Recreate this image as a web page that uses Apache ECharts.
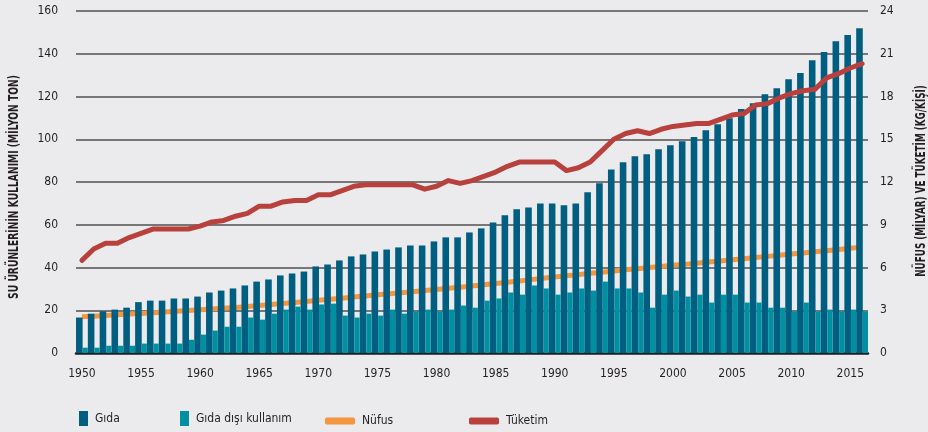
<!DOCTYPE html>
<html>
<head>
<meta charset="utf-8">
<script src="https://cdn.jsdelivr.net/npm/echarts@6/dist/echarts.min.js"></script>
<style>
html,body{margin:0;padding:0;background:#ebebed;}
#chart{width:928px;height:432px;}
</style>
</head>
<body>
<div id="chart"></div>
<script>
var years = [];
for (var y = 1950; y <= 2016; y++) years.push(String(y));

// Gıda (milyon ton)
var gida = [
  16.6, 18.4, 19.5, 20.3, 21.2, 23.8, 24.5, 24.5, 25.5, 25.5,
  26.4, 28.3, 29.2, 30.2, 31.6, 33.4, 34.4, 36.3, 37.2, 38.1,
  40.5, 41.4, 43.3, 45.2, 46.1, 47.5, 48.4, 49.4, 50.3, 50.3,
  52.2, 54.1, 54.1, 56.4, 58.3, 61.1, 64.4, 67.2, 68.1, 70.0,
  70.0, 69.1, 70.0, 75.2, 79.4, 85.9, 89.2, 92.0, 93.0, 95.3,
  97.2, 99.1, 101.0, 104.2, 107.0, 109.8, 114.1, 116.9, 121.1, 123.9,
  128.1, 131.0, 137.0, 140.8, 145.9, 148.8, 151.9
];

// Gıda dışı kullanım (milyon ton)
var gidaDisi = [
  2.5, 2.5, 3.4, 3.4, 3.4, 4.4, 4.4, 4.4, 4.4, 6.2,
  8.6, 10.5, 12.3, 12.3, 16.6, 15.6, 18.4, 20.3, 21.7, 20.3,
  22.7, 23.1, 17.5, 16.6, 18.4, 17.5, 20.3, 18.4, 19.4, 20.3,
  19.4, 20.3, 22.2, 21.2, 24.5, 25.5, 28.3, 27.3, 31.6, 30.2,
  27.3, 28.3, 30.2, 29.2, 33.4, 30.2, 30.2, 28.3, 21.2, 27.3,
  29.2, 26.4, 27.3, 23.6, 27.3, 27.3, 23.6, 23.6, 21.2, 21.2,
  19.4, 23.6, 19.4, 20.3, 19.4, 20.3, 19.4
];

// Nüfus (milyar)
var nufus = [
  2.54, 2.58, 2.63, 2.68, 2.73, 2.77, 2.82, 2.87, 2.93, 2.98,
  3.03, 3.08, 3.14, 3.20, 3.26, 3.33, 3.40, 3.47, 3.54, 3.62,
  3.70, 3.78, 3.85, 3.93, 4.00, 4.08, 4.15, 4.23, 4.30, 4.38,
  4.46, 4.54, 4.62, 4.70, 4.79, 4.87, 4.96, 5.05, 5.15, 5.24,
  5.33, 5.42, 5.50, 5.59, 5.67, 5.76, 5.84, 5.92, 6.00, 6.07,
  6.15, 6.22, 6.30, 6.38, 6.46, 6.54, 6.62, 6.70, 6.78, 6.86,
  6.94, 7.02, 7.10, 7.18, 7.27, 7.35, 7.43
];

// Tüketim (kg/kişi)
var tuketim = [
  6.5, 7.3, 7.7, 7.7, 8.1, 8.4, 8.7, 8.7, 8.7, 8.7,
  8.9, 9.2, 9.3, 9.6, 9.8, 10.3, 10.3, 10.6, 10.7, 10.7,
  11.1, 11.1, 11.4, 11.7, 11.8, 11.8, 11.8, 11.8, 11.8, 11.5,
  11.7, 12.1, 11.9, 12.1, 12.4, 12.7, 13.1, 13.4, 13.4, 13.4,
  13.4, 12.8, 13.0, 13.4, 14.2, 15.0, 15.4, 15.6, 15.4, 15.7,
  15.9, 16.0, 16.1, 16.1, 16.4, 16.7, 16.8, 17.4, 17.5, 17.9,
  18.2, 18.4, 18.5, 19.3, 19.6, 20.0, 20.3
];

var leftTicks = [0, 20, 40, 60, 80, 100, 120, 140, 160];
var rightTicks = [0, 3, 6, 9, 12, 15, 18, 21, 24];

var font = "'Liberation Sans Narrow', 'DejaVu Sans Condensed', sans-serif";
var txt = '#231f20';
var cGida = '#005e80', cDisi = '#0090a2', cNufus = '#f4953f', cTuk = '#b8403d';

var chart = echarts.init(document.getElementById('chart'));

function legendItem(name, left, top, icon, w, h, color) {
  return {
    left: left, top: top, icon: icon, itemWidth: w, itemHeight: h, itemGap: 0,
    data: [{ name: name, itemStyle: { color: color } }],
    textStyle: { fontFamily: font, fontSize: 12, color: txt, padding: [0, 0, 0, 2] },
    selectedMode: false
  };
}

// eksen başlıkları (dar yazı için yatay ölçek)
function axisTitle(text, x, y, sx) {
  return {
    type: 'text', x: x, y: y, rotation: Math.PI / 2, scaleX: sx,
    style: {
      text: text, fill: txt, font: "bold 14px 'DejaVu Sans Condensed', sans-serif",
      textAlign: 'center', textVerticalAlign: 'middle'
    }
  };
}

chart.setOption({
  backgroundColor: '#ebebed',
  animation: false,
  textStyle: { fontFamily: font },
  grid: { left: 76, right: 60, top: 11, bottom: 79 },
  graphic: [
    axisTitle('SU ÜRÜNLERİNİN KULLANIMI (MİLYON TON)', 14, 187, 0.73),
    axisTitle('NÜFUS (MİLYAR) VE TÜKETİM (KG/KİŞİ)', 921, 181, 0.7)
  ],
  legend: [
    legendItem('Gıda', 74, 406, 'rect', 9, 15, cGida),
    legendItem('Gıda dışı kullanım', 175, 406, 'rect', 9, 15, cDisi),
    legendItem('Nüfus', 320, 410, 'roundRect', 30, 7, cNufus),
    legendItem('Tüketim', 464, 410, 'roundRect', 30, 7, cTuk)
  ],
  xAxis: {
    type: 'category',
    data: years,
    axisLine: { lineStyle: { color: '#1e1e1e', width: 2.5 } },
    axisTick: {
      alignWithLabel: true, length: 5,
      interval: function (i) { return i % 5 === 0; },
      lineStyle: { color: '#8a8a8a', width: 1.5 }
    },
    axisLabel: {
      interval: function (i) { return i % 5 === 0; },
      color: txt, fontSize: 12, fontFamily: font, margin: 15
    }
  },
  yAxis: [
    {
      type: 'value', min: leftTicks[0], max: leftTicks[leftTicks.length - 1], interval: 20,
      axisLine: { show: false }, axisTick: { show: false },
      axisLabel: { color: txt, fontSize: 12, fontFamily: font, margin: 18 },
      splitLine: { lineStyle: { color: '#505050', width: 1.5 } }
    },
    {
      type: 'value', min: rightTicks[0], max: rightTicks[rightTicks.length - 1], interval: 3,
      position: 'right',
      axisLine: { show: false }, axisTick: { show: false },
      axisLabel: { color: txt, fontSize: 12, fontFamily: font, margin: 12 },
      splitLine: { show: false }
    }
  ],
  series: [
    {
      name: 'Gıda', type: 'bar', data: gida, barWidth: 6.6, barGap: 0, z: 2,
      itemStyle: { color: cGida }
    },
    {
      name: 'Gıda dışı kullanım', type: 'bar', data: gidaDisi, barWidth: 5.2, barGap: 0, z: 2,
      itemStyle: { color: cDisi }
    },
    {
      name: 'Nüfus', type: 'line', yAxisIndex: 1, data: nufus, z: 1,
      symbol: 'none', lineStyle: { color: cNufus, width: 5 }, itemStyle: { color: cNufus }
    },
    {
      name: 'Tüketim', type: 'line', yAxisIndex: 1, data: tuketim, z: 3,
      symbol: 'none', lineStyle: { color: cTuk, width: 5, cap: 'round', join: 'round' },
      itemStyle: { color: cTuk }
    }
  ]
});
</script>
</body>
</html>
